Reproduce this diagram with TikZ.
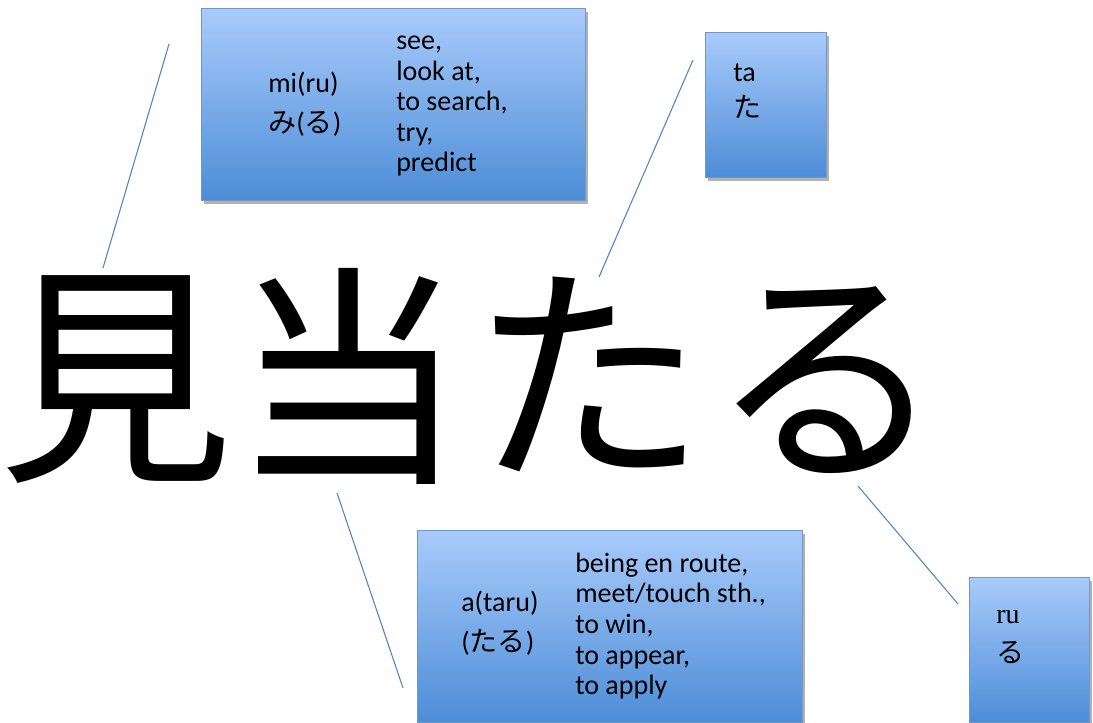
\documentclass[tikz,border=0pt]{standalone}
\usepackage{fontspec}
\setmainfont{Carlito}
\newfontfamily\cjk{Noto Sans CJK JP}
\newfontfamily\timesish{Liberation Serif}
\usetikzlibrary{shadows,positioning}
\definecolor{boxtop}{HTML}{A9CBFB}
\definecolor{boxbot}{HTML}{4D8DD7}
\definecolor{boxrim}{HTML}{6E99CF}
\definecolor{linkblue}{HTML}{5283C2}

\tikzset{
  kbox/.style={rectangle,draw=boxrim,line width=0.6pt,top color=boxtop,bottom color=boxbot,
    drop shadow={shadow xshift=2pt,shadow yshift=-3pt,opacity=0.3,fill=black},inner sep=0pt},
  gloss/.style={anchor=west,align=left,inner sep=0pt,font=\fontsize{21}{22.9}\selectfont},
  kanji/.style={inner sep=0pt,font=\cjk\fontsize{176}{200}\selectfont},
  link/.style={linkblue,line width=0.8pt}
}

\begin{document}
\begin{tikzpicture}[x=0.75pt,y=-0.75pt]
\useasboundingbox (0,0) rectangle (1093,722);
% big word
\node[kanji] (k1) at (116,380) {見};
\node[kanji] (k2) at (349,376) {当};
\node[kanji] (k3) at (589,374) {た};
\node[kanji] (k4) at (828,380) {る};
% boxes
\node[kbox,minimum width=288pt,minimum height=144pt] (mi) at (393,104) {};
\node[gloss] (miread) at (268,104) {mi(ru)\\[7pt]{\cjk み}({\cjk る})};
\node[gloss] (mimean) at (396,106) {see,\\look at,\\to search,\\try,\\predict};
\node[kbox,minimum width=90.75pt,minimum height=108.75pt] (ta) at (765.5,104.5) {};
\node[gloss] (taread) at (733,91) {ta\\[4pt]{\cjk た}};
\node[kbox,minimum width=288.75pt,minimum height=144pt] (ataru) at (609.5,626) {};
\node[gloss] (atread) at (461,623) {a(taru)\\[7pt]({\cjk たる})};
\node[gloss] (atmean) at (575,626) {being en route,\\meet/touch sth.,\\to win,\\to appear,\\to apply};
\node[kbox,minimum width=90pt,minimum height=108.75pt] (ru) at (1029,649.5) {};
\node[gloss] (ruread) at (996,637) {{\timesish ru}\\[7pt]{\cjk る}};
% connectors
\coordinate (l1a) at (169,44);  \coordinate (l1b) at (103,268);
\coordinate (l2a) at (693,60);  \coordinate (l2b) at (599,277);
\coordinate (l3a) at (337,493); \coordinate (l3b) at (403,688);
\coordinate (l4a) at (858,486); \coordinate (l4b) at (958,604);
\draw[link] (l1a) -- (l1b);
\draw[link] (l2a) -- (l2b);
\draw[link] (l3a) -- (l3b);
\draw[link] (l4a) -- (l4b);
\end{tikzpicture}
\end{document}
